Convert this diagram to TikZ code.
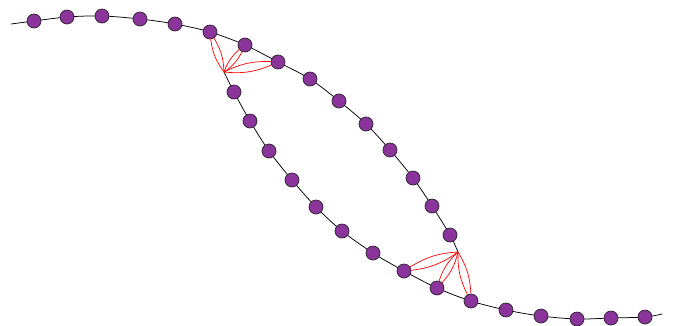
\documentclass[tikz,border=0pt]{standalone}
\definecolor{beadfill}{RGB}{138,52,156}
\definecolor{beadline}{RGB}{45,35,45}
\tikzset{
  bead/.style={circle,draw=beadline,fill=beadfill,line width=0.7pt,minimum size=14pt,inner sep=0pt},
  chainline/.style={draw=black,line width=0.75pt},
  link/.style={draw=red,line width=0.7pt}
}
\begin{document}
\begin{tikzpicture}[x=1pt,y=-1pt]
\useasboundingbox (0,0) rectangle (678,325);
% positions
\foreach \n/\x/\y in {t0/11/24,t1/34/21,t2/67/17,t3/102/16,t4/140/19,t5/175/24,t6/210/32,t7/245/45,t8/278/62,t9/310/79,t10/339/101,t11/366/124,t12/390/150,t13/413/178,t14/432/206,t15/450/235,j2/458/252,
  j1/224/72,l1/234/92,l2/250/121,l3/269/151,l4/292/180,l5/316/207,l6/342/231,l7/373/253,l8/404/271,l9/437/288,l10/471/301,l11/506/310,l12/541/316,l13/577/319,l14/611/318,l15/645/317,l16/662/314}
  \coordinate (\n) at (\x,\y);
% chains
\draw[chainline] plot[smooth,tension=0.55] coordinates {(t0) (t1) (t2) (t3) (t4) (t5) (t6) (t7) (t8) (t9) (t10) (t11) (t12) (t13) (t14) (t15) (j2)};
\draw[chainline] plot[smooth,tension=0.55] coordinates {(j1) (l1) (l2) (l3) (l4) (l5) (l6) (l7) (l8) (l9) (l10) (l11) (l12) (l13) (l14) (l15) (l16)};
% beads
\foreach \n in {t1,t2,t3,t4,t5,t6,t7,t8,t9,t10,t11,t12,t13,t14,t15,l1,l2,l3,l4,l5,l6,l7,l8,l9,l10,l11,l12,l13,l14,l15}
  \node[bead] (n\n) at (\n) {};
% red links
\foreach \b in {t6,t7,t8,l8,l9,l10}{}
\foreach \b in {t6,t7,t8}{
  \draw[link] (j1) to[bend left=14] (n\b);
  \draw[link] (j1) to[bend right=14] (n\b);
}
\foreach \b in {l8,l9,l10}{
  \draw[link] (j2) to[bend left=14] (n\b);
  \draw[link] (j2) to[bend right=14] (n\b);
}
\end{tikzpicture}
\end{document}
